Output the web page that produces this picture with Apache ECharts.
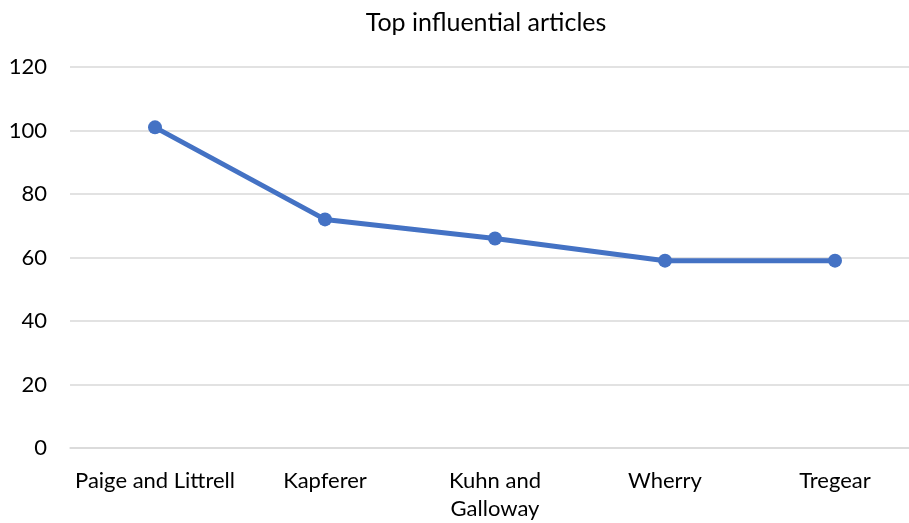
<!DOCTYPE html>
<html><head><meta charset="utf-8">
<script src="https://cdn.jsdelivr.net/npm/echarts@6/dist/echarts.min.js"></script>
<style>html,body{margin:0;padding:0;background:#fff;overflow:hidden;width:100vw;height:100vh}#c{width:920px;height:100vh}</style>
</head><body><div id="c"></div>
<script>
var categories = ["Paige and Littrell", "Kapferer", "Kuhn and\nGalloway", "Wherry", "Tregear"];
var values = [101, 72, 66, 59, 59];
var yTicks = { min: 0, max: 120, interval: 20 };
var titleText = "Top influential articles";

var chart = echarts.init(document.getElementById('c'), null, {renderer: 'canvas'});
var font = 'Lato, "Open Sans", sans-serif';
chart.setOption({
  animation: false,
  title: {
    text: titleText, left: 481, top: 5, textAlign: 'center',
    textStyle: { fontFamily: font, fontSize: 25, fontWeight: 'normal', color: '#000' }
  },
  grid: { left: 70, top: 67, right: 0, bottom: 68, containLabel: false },
  xAxis: {
    type: 'category', data: categories, boundaryGap: true,
    axisLine: { lineStyle: { color: '#d9d9d9', width: 1.5 } },
    axisTick: { show: false },
    axisLabel: { interval: 0, fontFamily: font, fontSize: 22, color: '#000', margin: 19, lineHeight: 28 }
  },
  yAxis: {
    type: 'value', min: yTicks.min, max: yTicks.max, interval: yTicks.interval,
    axisLine: { show: false }, axisTick: { show: false },
    splitLine: { lineStyle: { color: '#d9d9d9', width: 1.5 } },
    axisLabel: { fontFamily: font, fontSize: 22, color: '#000', margin: 23 }
  },
  series: [{
    type: 'line', data: values,
    lineStyle: { color: '#4472C4', width: 5 },
    itemStyle: { color: '#4472C4' },
    symbol: 'circle', symbolSize: 14
  }]
});
</script></body></html>
